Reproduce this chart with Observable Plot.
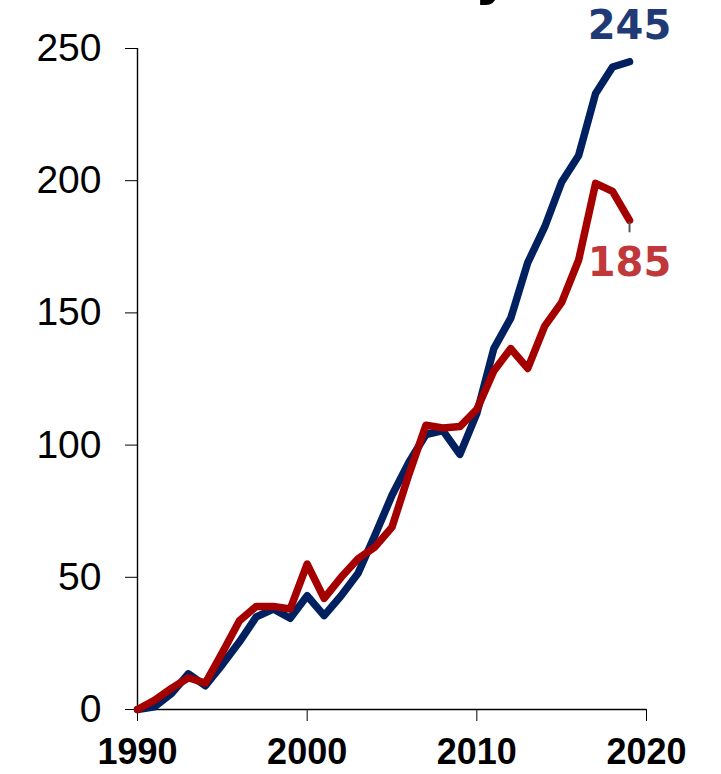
<!DOCTYPE html>
<html>
<head>
<meta charset="utf-8">
<script src="https://cdn.jsdelivr.net/npm/d3@7"></script>
<script src="https://cdn.jsdelivr.net/npm/@observablehq/plot@0.6"></script>
<style>
  body { margin: 0; background: #fff; }
  #chart svg { display: block; }
  #chart svg [aria-label^="y-axis"] text { font: 39px "Liberation Sans", Arial, sans-serif; }
  #chart svg [aria-label^="x-axis"] text { font: bold 36px "Liberation Sans", Arial, sans-serif; }
</style>
</head>
<body>
<div id="chart"></div>
<script>
const years = [1990, 1991, 1992, 1993, 1994, 1995, 1996, 1997, 1998, 1999,
               2000, 2001, 2002, 2003, 2004, 2005, 2006, 2007, 2008, 2009,
               2010, 2011, 2012, 2013, 2014, 2015, 2016, 2017, 2018, 2019];
// navy series (ends at 245)
const seriesNavy = [0, 1, 6, 13.5, 9, 17, 25.5, 35, 38, 34.5,
                    43, 35.5, 43, 51.5, 66, 81, 93.5, 104, 105.5, 96.5,
                    112, 136.5, 148, 169, 182.5, 199.5, 209.5, 233, 243, 245];
// red series (ends at 185)
const seriesRed = [0, 3.5, 8, 12, 10, 21.5, 33.5, 39, 39, 38,
                   55, 42, 50, 57, 61.5, 69, 89, 107.5, 106.5, 107,
                   113.5, 128, 136.5, 129, 145, 154, 170, 199, 196, 185];
const xTicks = [1990, 2000, 2010, 2020];
const yTicks = [0, 50, 100, 150, 200, 250];
const xDomain = [1990, 2020];
const yDomain = [0, 250];
const endLabelNavy = "245";
const endLabelRed = "185";
const titleFragment = "y";

const navyColor = "#002060";
const redColor = "#a50000";

const dataNavy = years.map((year, i) => ({year, value: seriesNavy[i]}));
const dataRed = years.map((year, i) => ({year, value: seriesRed[i]}));
const lastNavy = dataNavy[dataNavy.length - 1];
const lastRed = dataRed[dataRed.length - 1];

const chart = Plot.plot({
  width: 721,
  height: 774,
  marginLeft: 137,
  marginRight: 75,
  marginTop: 48,
  marginBottom: 65,
  style: {background: "#fff", color: "#000", fontFamily: "Liberation Sans, Arial, sans-serif", overflow: "hidden"},
  x: {domain: xDomain, ticks: xTicks, tickFormat: "d", tickSize: 12, tickPadding: 17, label: null},
  y: {domain: yDomain, ticks: yTicks, tickSize: 12, tickPadding: 24, label: null},
  marks: [
    Plot.ruleX([xDomain[0]], {stroke: "#000", strokeWidth: 1.4}),
    Plot.ruleY([yDomain[0]], {stroke: "#000", strokeWidth: 1.4}),
    Plot.line(dataNavy, {x: "year", y: "value", stroke: navyColor, strokeWidth: 7.5, strokeLinejoin: "round", strokeLinecap: "round"}),
    Plot.line(dataRed, {x: "year", y: "value", stroke: redColor, strokeWidth: 7.5, strokeLinejoin: "round", strokeLinecap: "round"}),
    Plot.ruleX([lastRed], {x: "year", y1: d => d.value - 0.9, y2: d => d.value - 4.7, stroke: "#595959", strokeWidth: 2}),
    Plot.text([lastNavy], {x: "year", y: "value", text: () => endLabelNavy, fill: "#1f3a74",
      fontSize: 40, fontWeight: "bold", fontFamily: "DejaVu Sans, Verdana, sans-serif", lineAnchor: "bottom", dy: -23}),
    Plot.text([lastRed], {x: "year", y: "value", text: () => endLabelRed, fill: "#c0383a",
      fontSize: 40, fontWeight: "bold", fontFamily: "DejaVu Sans, Verdana, sans-serif", lineAnchor: "bottom", dy: 56}),
    Plot.text([titleFragment], {frameAnchor: "top-left", text: d => d, dx: 337, dy: -56, textAnchor: "start", lineAnchor: "bottom",
      fontSize: 56, fontWeight: "bold", fontFamily: "DejaVu Sans, sans-serif", fill: "#000"})
  ]
});
document.getElementById("chart").appendChild(chart);
</script>
</body>
</html>
